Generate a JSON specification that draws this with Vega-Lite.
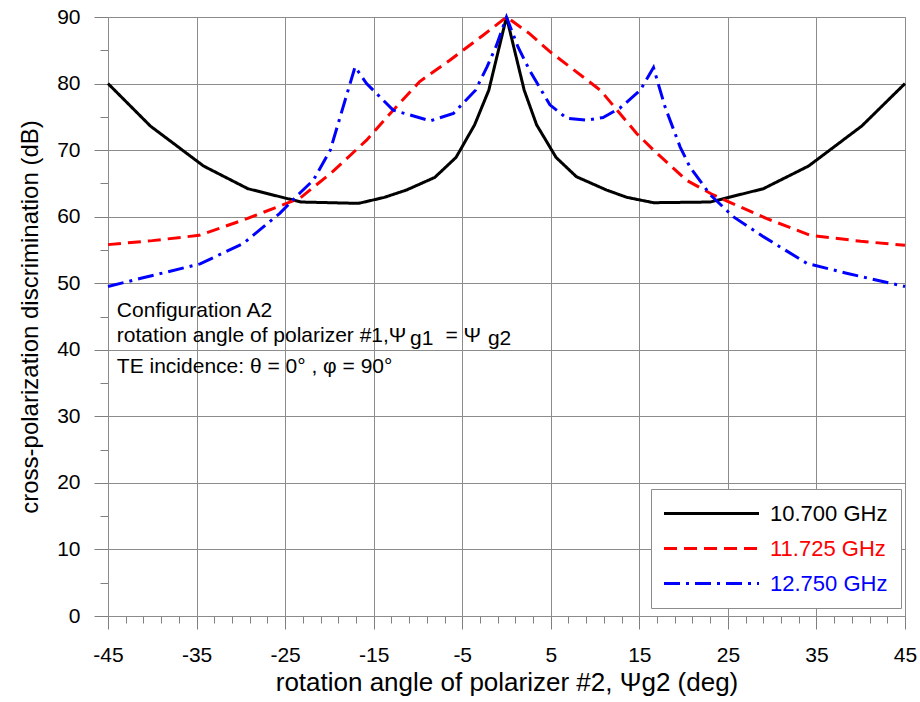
{
  "$schema": "https://vega.github.io/schema/vega-lite/v6.json",
  "width": 797,
  "height": 599,
  "autosize": {"type": "none"},
  "padding": {"left": 108, "top": 17, "right": 15, "bottom": 86},
  "background": "white",
  "config": {
    "font": "Liberation Sans",
    "view": {"stroke": "#8c8c8c", "strokeWidth": 1}
  },
  "datasets": {
    "curves": [
      {"f": "10.700 GHz", "a": -45, "v": 80.0},
      {"f": "10.700 GHz", "a": -40.2, "v": 73.6},
      {"f": "10.700 GHz", "a": -34.2, "v": 67.6},
      {"f": "10.700 GHz", "a": -29.2, "v": 64.2},
      {"f": "10.700 GHz", "a": -23.2, "v": 62.2},
      {"f": "10.700 GHz", "a": -16.7, "v": 62.0},
      {"f": "10.700 GHz", "a": -13.8, "v": 62.9},
      {"f": "10.700 GHz", "a": -11.3, "v": 64.0},
      {"f": "10.700 GHz", "a": -8.1, "v": 65.9},
      {"f": "10.700 GHz", "a": -5.7, "v": 68.9},
      {"f": "10.700 GHz", "a": -3.6, "v": 73.8},
      {"f": "10.700 GHz", "a": -2.0, "v": 79.0},
      {"f": "10.700 GHz", "a": 0, "v": 90.0},
      {"f": "10.700 GHz", "a": 2.0, "v": 79.0},
      {"f": "10.700 GHz", "a": 3.4, "v": 73.8},
      {"f": "10.700 GHz", "a": 5.6, "v": 68.9},
      {"f": "10.700 GHz", "a": 7.9, "v": 66.0},
      {"f": "10.700 GHz", "a": 11.3, "v": 64.0},
      {"f": "10.700 GHz", "a": 13.6, "v": 62.9},
      {"f": "10.700 GHz", "a": 16.6, "v": 62.1},
      {"f": "10.700 GHz", "a": 23.0, "v": 62.2},
      {"f": "10.700 GHz", "a": 29.0, "v": 64.2},
      {"f": "10.700 GHz", "a": 34.1, "v": 67.6},
      {"f": "10.700 GHz", "a": 40.1, "v": 73.6},
      {"f": "10.700 GHz", "a": 45, "v": 80.0},
      {"f": "11.725 GHz", "a": -45, "v": 55.8},
      {"f": "11.725 GHz", "a": -40, "v": 56.4},
      {"f": "11.725 GHz", "a": -34.7, "v": 57.2},
      {"f": "11.725 GHz", "a": -29.3, "v": 59.7},
      {"f": "11.725 GHz", "a": -23.3, "v": 62.8},
      {"f": "11.725 GHz", "a": -19.6, "v": 66.8},
      {"f": "11.725 GHz", "a": -15.8, "v": 71.5},
      {"f": "11.725 GHz", "a": -12.8, "v": 76.0},
      {"f": "11.725 GHz", "a": -9.8, "v": 80.3},
      {"f": "11.725 GHz", "a": -6.4, "v": 83.5},
      {"f": "11.725 GHz", "a": -2.6, "v": 87.3},
      {"f": "11.725 GHz", "a": 0, "v": 90.0},
      {"f": "11.725 GHz", "a": 2.6, "v": 87.5},
      {"f": "11.725 GHz", "a": 4.9, "v": 84.8},
      {"f": "11.725 GHz", "a": 10.6, "v": 79.0},
      {"f": "11.725 GHz", "a": 14.7, "v": 72.5},
      {"f": "11.725 GHz", "a": 16.6, "v": 70.0},
      {"f": "11.725 GHz", "a": 20.3, "v": 65.5},
      {"f": "11.725 GHz", "a": 23.3, "v": 63.3},
      {"f": "11.725 GHz", "a": 29.4, "v": 59.7},
      {"f": "11.725 GHz", "a": 34.3, "v": 57.2},
      {"f": "11.725 GHz", "a": 40, "v": 56.3},
      {"f": "11.725 GHz", "a": 45, "v": 55.7},
      {"f": "12.750 GHz", "a": -45, "v": 49.5},
      {"f": "12.750 GHz", "a": -41.4, "v": 50.7},
      {"f": "12.750 GHz", "a": -34.6, "v": 52.9},
      {"f": "12.750 GHz", "a": -29.7, "v": 56.0},
      {"f": "12.750 GHz", "a": -25.6, "v": 60.5},
      {"f": "12.750 GHz", "a": -23.3, "v": 63.6},
      {"f": "12.750 GHz", "a": -21.8, "v": 65.5},
      {"f": "12.750 GHz", "a": -19.9, "v": 70.0},
      {"f": "12.750 GHz", "a": -18.0, "v": 78.5},
      {"f": "12.750 GHz", "a": -17.1, "v": 82.5},
      {"f": "12.750 GHz", "a": -15.8, "v": 80.0},
      {"f": "12.750 GHz", "a": -12.8, "v": 76.0},
      {"f": "12.750 GHz", "a": -8.6, "v": 74.4},
      {"f": "12.750 GHz", "a": -6.0, "v": 75.5},
      {"f": "12.750 GHz", "a": -3.5, "v": 79.0},
      {"f": "12.750 GHz", "a": -2.2, "v": 82.5},
      {"f": "12.750 GHz", "a": -1.2, "v": 85.5},
      {"f": "12.750 GHz", "a": 0, "v": 90.0},
      {"f": "12.750 GHz", "a": 1.3, "v": 85.5},
      {"f": "12.750 GHz", "a": 2.6, "v": 82.0},
      {"f": "12.750 GHz", "a": 4.9, "v": 76.8},
      {"f": "12.750 GHz", "a": 6.8, "v": 74.8},
      {"f": "12.750 GHz", "a": 9.0, "v": 74.5},
      {"f": "12.750 GHz", "a": 10.9, "v": 74.9},
      {"f": "12.750 GHz", "a": 12.8, "v": 76.3},
      {"f": "12.750 GHz", "a": 15.1, "v": 79.0},
      {"f": "12.750 GHz", "a": 16.6, "v": 82.4},
      {"f": "12.750 GHz", "a": 17.9, "v": 76.5},
      {"f": "12.750 GHz", "a": 19.6, "v": 70.5},
      {"f": "12.750 GHz", "a": 20.7, "v": 67.5},
      {"f": "12.750 GHz", "a": 23.0, "v": 63.3},
      {"f": "12.750 GHz", "a": 25.6, "v": 60.0},
      {"f": "12.750 GHz", "a": 29.0, "v": 57.0},
      {"f": "12.750 GHz", "a": 33.9, "v": 53.0},
      {"f": "12.750 GHz", "a": 38.4, "v": 51.5},
      {"f": "12.750 GHz", "a": 45, "v": 49.5}
    ],
    "note": [{}]
  },
  "resolve": {"axis": {"x": "independent", "y": "independent"}},
  "layer": [
    {
      "data": {"name": "curves"},
      "mark": {"type": "rule", "opacity": 0},
      "encoding": {
        "x": {
          "field": "a", "type": "quantitative",
          "scale": {"domain": [-45, 45], "nice": false, "zero": false},
          "axis": {
            "orient": "bottom",
            "values": [-45,-43,-41,-39,-37,-35,-33,-31,-29,-27,-25,-23,-21,-19,-17,-15,-13,-11,-9,-7,-5,-3,-1,1,3,5,7,9,11,13,15,17,19,21,23,25,27,29,31,33,35,37,39,41,43,45],
            "labels": false, "grid": false, "domain": false, "title": null,
            "tickSize": 7, "tickColor": "#808080", "tickWidth": 1
          }
        },
        "y": {
          "field": "v", "type": "quantitative",
          "scale": {"domain": [0, 90], "nice": false},
          "axis": {
            "orient": "left",
            "values": [5, 15, 25, 35, 45, 55, 65, 75, 85],
            "labels": false, "grid": false, "domain": false, "title": null,
            "tickSize": 8, "tickColor": "#808080", "tickWidth": 1
          }
        }
      }
    },
    {
      "data": {"name": "curves"},
      "mark": {"type": "line", "strokeWidth": 3, "strokeCap": "butt"},
      "encoding": {
        "x": {
          "field": "a", "type": "quantitative",
          "scale": {"domain": [-45, 45], "nice": false, "zero": false},
          "axis": {
            "orient": "bottom",
            "values": [-45, -35, -25, -15, -5, 5, 15, 25, 35, 45],
            "labelExpr": "'' + datum.value",
            "labelFlush": false,
            "grid": true, "gridColor": "#8c8c8c", "gridWidth": 1, "gridOpacity": 1,
            "domain": true, "domainColor": "#8c8c8c",
            "tickSize": 13, "tickColor": "#808080",
            "labelFontSize": 21, "labelColor": "black", "labelPadding": 15,
            "title": "rotation angle of polarizer #2, Ψg2 (deg)",
            "titleFontSize": 26, "titleFontWeight": "normal", "titleColor": "black", "titlePadding": 4
          }
        },
        "y": {
          "field": "v", "type": "quantitative",
          "scale": {"domain": [0, 90], "nice": false},
          "axis": {
            "orient": "left",
            "values": [0, 10, 20, 30, 40, 50, 60, 70, 80, 90],
            "grid": true, "gridColor": "#8c8c8c", "gridWidth": 1, "gridOpacity": 1,
            "domain": true, "domainColor": "#8c8c8c",
            "tickSize": 14, "tickColor": "#808080",
            "labelFontSize": 21, "labelColor": "black", "labelPadding": 14,
            "title": "cross-polarization discrimination (dB)",
            "titleFontSize": 24, "titleFontWeight": "normal", "titleColor": "black", "titlePadding": 14
          }
        },
        "color": {
          "field": "f", "type": "nominal",
          "scale": {"domain": ["10.700 GHz", "11.725 GHz", "12.750 GHz"], "range": ["#000000", "#ff0000", "#0000ff"]},
          "legend": {
            "title": null, "orient": "none", "legendX": 543, "legendY": 472,
            "direction": "vertical",
            "fillColor": "white", "strokeColor": "#8c8c8c", "padding": 13,
            "symbolType": "M-1.15,0H8.35", "symbolSize": 400, "symbolStrokeWidth": 3,
            "symbolOffset": 0,
            "labelFontSize": 22, "labelOffset": 83, "rowPadding": 12,
            "labelLimit": 300,
            "encode": {"labels": {"update": {"fill": {"signal": "datum.value === '10.700 GHz' ? '#000000' : datum.value === '11.725 GHz' ? '#ff0000' : '#0000ff'"}}}}
          }
        },
        "strokeDash": {
          "field": "f", "type": "nominal",
          "scale": {"domain": ["10.700 GHz", "11.725 GHz", "12.750 GHz"], "range": [[1, 0], [13, 7], [16, 6, 3, 6]]},
          "legend": {"title": null}
        }
      }
    },
    {
      "data": {"name": "note"},
      "mark": {"type": "text", "align": "left", "baseline": "alphabetic", "fontSize": 21, "color": "black"},
      "encoding": {
        "x": {"datum": -44, "type": "quantitative", "axis": null},
        "y": {"datum": 45.0, "type": "quantitative", "axis": null},
        "text": {"value": "Configuration A2"}
      }
    },
    {
      "data": {"name": "note"},
      "mark": {"type": "text", "align": "left", "baseline": "alphabetic", "fontSize": 21, "color": "black"},
      "encoding": {
        "x": {"datum": -44, "type": "quantitative", "axis": null},
        "y": {"datum": 41.1, "type": "quantitative", "axis": null},
        "text": {"value": "rotation angle of polarizer #1,Ψ"}
      }
    },
    {
      "data": {"name": "note"},
      "mark": {"type": "text", "align": "left", "baseline": "alphabetic", "fontSize": 21, "color": "black"},
      "encoding": {
        "x": {"datum": -10.9, "type": "quantitative", "axis": null},
        "y": {"datum": 40.7, "type": "quantitative", "axis": null},
        "text": {"value": "g1"}
      }
    },
    {
      "data": {"name": "note"},
      "mark": {"type": "text", "align": "left", "baseline": "alphabetic", "fontSize": 21, "color": "black"},
      "encoding": {
        "x": {"datum": -6.9, "type": "quantitative", "axis": null},
        "y": {"datum": 41.1, "type": "quantitative", "axis": null},
        "text": {"value": "=  Ψ"}
      }
    },
    {
      "data": {"name": "note"},
      "mark": {"type": "text", "align": "left", "baseline": "alphabetic", "fontSize": 21, "color": "black"},
      "encoding": {
        "x": {"datum": -2.1, "type": "quantitative", "axis": null},
        "y": {"datum": 40.7, "type": "quantitative", "axis": null},
        "text": {"value": "g2"}
      }
    },
    {
      "data": {"name": "note"},
      "mark": {"type": "text", "align": "left", "baseline": "alphabetic", "fontSize": 21, "color": "black"},
      "encoding": {
        "x": {"datum": -44, "type": "quantitative", "axis": null},
        "y": {"datum": 36.5, "type": "quantitative", "axis": null},
        "text": {"value": "TE incidence: θ = 0° , φ = 90°"}
      }
    }
  ]
}
